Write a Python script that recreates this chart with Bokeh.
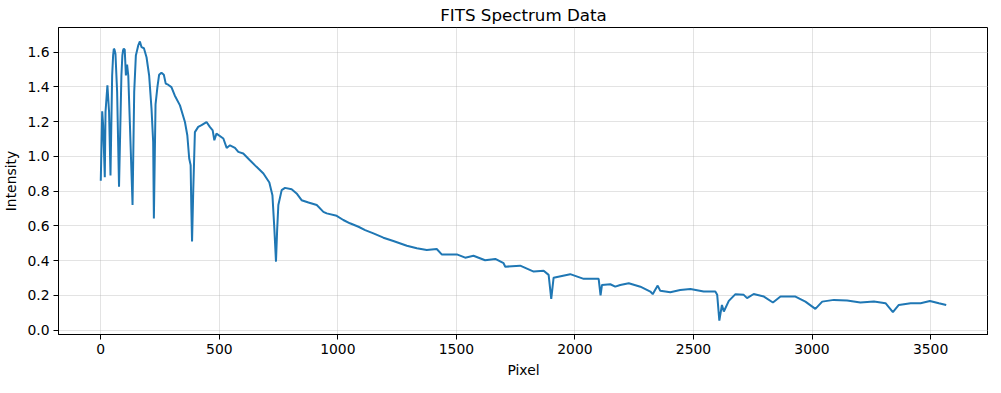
from bokeh.plotting import figure
from bokeh.models import Range1d, FixedTicker, CustomJSTickFormatter
from bokeh.embed import file_html
from bokeh.resources import INLINE

pixel = [0, 6, 10, 17, 20, 28, 35, 41, 48, 52, 55, 58, 62, 69, 77, 87, 91, 94, 97, 101, 106, 111,
         116, 123, 134, 141, 148, 158, 165, 172, 182, 193, 204, 214, 221, 224, 231, 239, 246,
         256, 266, 274, 284, 298, 312, 334, 355, 365, 373, 379, 382, 385, 390, 397, 411, 425,
         446, 460, 472, 479, 488, 517, 531, 545, 566, 580, 601, 629, 657, 686, 711, 724, 732,
         739, 744, 749, 763, 777, 805, 826, 847, 876, 911, 939, 953, 995, 1023, 1051, 1087,
         1115, 1150, 1192, 1234, 1291, 1333, 1375, 1417, 1438, 1502, 1537, 1572, 1621, 1664,
         1699, 1706, 1769, 1826, 1868, 1889, 1900, 1910, 1980, 2037, 2100, 2108, 2114, 2149,
         2170, 2191, 2227, 2276, 2318, 2328, 2338, 2349, 2360, 2402, 2444, 2487, 2543, 2592,
         2600, 2609, 2620, 2628, 2649, 2677, 2712, 2726, 2754, 2797, 2835, 2867, 2930, 2972,
         3014, 3043, 3092, 3148, 3204, 3261, 3310, 3341, 3366, 3416, 3458, 3497, 3535, 3566]
intensity = [0.86, 1.26, 1.18, 0.88, 1.256, 1.41, 1.256, 0.89, 1.466, 1.58, 1.62, 1.615, 1.59,
             1.37, 0.825, 1.466, 1.58, 1.61, 1.62, 1.615, 1.466, 1.528, 1.466, 1.179, 0.72,
             1.37, 1.581, 1.639, 1.662, 1.629, 1.623, 1.571, 1.466, 1.275, 1.083, 0.643, 1.30,
             1.40, 1.47, 1.482, 1.47, 1.419, 1.413, 1.399, 1.351, 1.294, 1.198, 1.122, 0.988,
             0.95, 0.70, 0.51, 0.80, 1.14, 1.17, 1.18, 1.198, 1.17, 1.15, 1.093, 1.131, 1.103,
             1.049, 1.064, 1.049, 1.026, 1.017, 0.978, 0.94, 0.902, 0.85, 0.777, 0.587, 0.394,
             0.58, 0.72, 0.806, 0.819, 0.811, 0.787, 0.748, 0.735, 0.72, 0.681, 0.672, 0.658,
             0.634, 0.615, 0.595, 0.576, 0.557, 0.532, 0.513, 0.486, 0.471, 0.461, 0.467, 0.436,
             0.436, 0.417, 0.428, 0.402, 0.41, 0.385, 0.365, 0.371, 0.337, 0.342, 0.318, 0.18,
             0.302, 0.322, 0.295, 0.295, 0.20, 0.26, 0.264, 0.25, 0.26, 0.27, 0.25, 0.222,
             0.207, 0.231, 0.256, 0.226, 0.218, 0.231, 0.237, 0.222, 0.222, 0.203, 0.055, 0.145,
             0.107, 0.168, 0.207, 0.203, 0.184, 0.208, 0.193, 0.159, 0.193, 0.193, 0.164, 0.122,
             0.164, 0.174, 0.17, 0.159, 0.164, 0.155, 0.103, 0.145, 0.155, 0.155, 0.168, 0.155,
             0.145]

x_ticks = [0, 500, 1000, 1500, 2000, 2500, 3000, 3500]
y_ticks = [0.0, 0.2, 0.4, 0.6, 0.8, 1.0, 1.2, 1.4, 1.6]

FONT = "DejaVu Sans"

xpad = 0.05 * (max(pixel) - min(pixel))
ypad = 0.05 * (max(intensity) - min(intensity))

p = figure(frame_width=930, frame_height=307, output_backend="svg", toolbar_location=None,
           x_range=Range1d(min(pixel) - xpad, max(pixel) + xpad),
           y_range=Range1d(min(intensity) - ypad, max(intensity) + ypad),
           min_border_left=53, min_border_right=0, min_border_top=24, min_border_bottom=45)

p.title.text = "FITS Spectrum Data"
p.title.align = "center"
p.title.text_font = FONT
p.title.text_font_size = "16.7px"
p.title.text_font_style = "normal"
p.title.text_color = "black"
p.title.standoff = 5
p.title.offset = 0

p.line(pixel, intensity, line_color="#1f77b4", line_width=2)

p.outline_line_color = "black"
p.outline_line_width = 1
p.outline_line_alpha = 1

for ax in (p.xaxis[0], p.yaxis[0]):
    ax.axis_line_color = "black"
    ax.axis_line_width = 1
    ax.major_tick_line_color = "black"
    ax.major_tick_line_width = 1
    ax.major_tick_out = 5
    ax.major_tick_in = 0
    ax.minor_tick_line_color = None
    ax.major_label_text_font = FONT
    ax.major_label_text_font_size = "13.9px"
    ax.major_label_text_color = "black"
    ax.axis_label_text_font = FONT
    ax.axis_label_text_font_size = "13.9px"
    ax.axis_label_text_font_style = "normal"
    ax.axis_label_text_color = "black"
    ax.major_label_standoff = 4

p.xaxis.axis_label = "Pixel"
p.yaxis.axis_label = "Intensity"
p.xaxis.ticker = FixedTicker(ticks=x_ticks)
p.yaxis.ticker = FixedTicker(ticks=y_ticks)
p.yaxis.formatter = CustomJSTickFormatter(code="return tick.toFixed(1);")
p.xaxis.formatter = CustomJSTickFormatter(code="return tick.toFixed(0);")

p.xgrid.grid_line_color = "#b0b0b0"
p.ygrid.grid_line_color = "#b0b0b0"
p.xgrid.grid_line_alpha = 0.35
p.ygrid.grid_line_alpha = 0.35
p.xgrid.grid_line_width = 1
p.ygrid.grid_line_width = 1
p.xgrid.ticker = FixedTicker(ticks=x_ticks)
p.ygrid.ticker = FixedTicker(ticks=y_ticks)

p.background_fill_color = "white"
p.border_fill_color = "white"

open("out.html", "w").write(file_html(p, INLINE))
